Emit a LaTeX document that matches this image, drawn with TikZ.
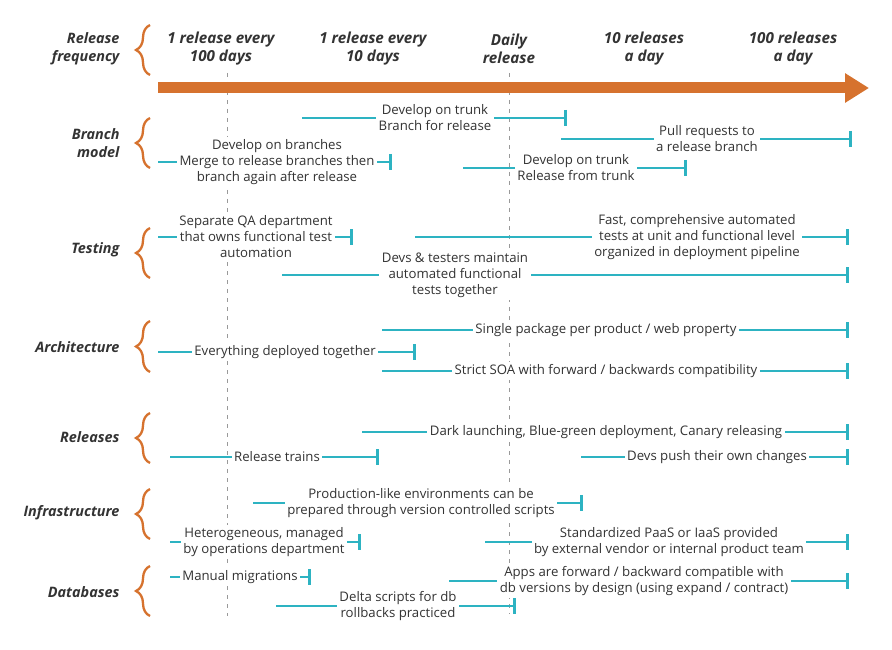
\documentclass[tikz,border=0pt]{standalone}
\usepackage{fontspec}
\setmainfont{Open Sans}
\usepackage{xcolor}
\usepackage{tikz}
\usetikzlibrary{arrows.meta, decorations.pathreplacing}

\definecolor{bandorange}{HTML}{D6722E}
\definecolor{barteal}{HTML}{2DB3C2}
\definecolor{textgray}{HTML}{333333}

\begin{document}
\begin{tikzpicture}[
    x=1pt, y=-1pt,
    rowlabel/.style={anchor=east, align=right, text=textgray, font=\fontsize{14.4pt}{18pt}\selectfont\bfseries\itshape},
    freq/.style={align=center, text=textgray, font=\fontsize{15.2pt}{18pt}\selectfont\bfseries\itshape},
    item/.style={fill=white, align=center, inner sep=2.5pt, text=textgray, font=\fontsize{13.2pt}{16pt}\selectfont},
    timebar/.style={draw=barteal, line width=2.7pt, -{Bar[width=16pt]}},
    rowbrace/.style={decorate, decoration={brace, amplitude=14pt}, draw=bandorange, line width=2.3pt},
    guide/.style={draw=gray!80, line width=1pt, dash pattern=on 4pt off 5pt},
    band/.style={draw=bandorange, line width=11pt, -{Triangle[length=24pt, width=28pt]}}
]
\useasboundingbox[fill=white] (0,0) rectangle (892,650);

% Guides at 100 days and daily
\coordinate (g1t) at (227,73); \coordinate (g1b) at (227,616);
\coordinate (g2t) at (509,73); \coordinate (g2b) at (509,614);
\draw[guide] (g1t) -- (g1b);
\draw[guide] (g2t) -- (g2b);

% Release frequency header
\node[rowlabel] (freqlabel) at (123,49) {Release\\frequency};
\draw[rowbrace] (150,75) -- (150,25);
\node[freq] (f100d) at (221,49) {1 release every\\100 days};
\node[freq] (f10d) at (373,49) {1 release every\\10 days};
\node[freq] (fdaily) at (509,49) {Daily\\release};
\node[freq] (f10a) at (644,49) {10 releases\\a day};
\node[freq] (f100a) at (793,49) {100 releases\\a day};
\coordinate (bandstart) at (158,88); \coordinate (bandend) at (869,88);
\draw[band] (bandstart) -- (bandend);

% Branch model
\node[rowlabel] (branchlabel) at (123,143) {Branch\\model};
\draw[rowbrace] (150,168) -- (150,118);
\coordinate (b1s) at (302,118); \coordinate (b1e) at (567,118);
\draw[timebar] (b1s) -- (b1e);
\node[item] (b1) at (435,118) {Develop on trunk\\Branch for release};
\coordinate (b2s) at (561,139); \coordinate (b2e) at (852,139);
\draw[timebar] (b2s) -- (b2e);
\node[item] (b2) at (707,139) {Pull requests to\\a release branch};
\coordinate (b3s) at (158,162); \coordinate (b3e) at (392,162);
\draw[timebar] (b3s) -- (b3e);
\node[item] (b3) at (277,162) {Develop on branches\\Merge to release branches then\\branch again after release};
\coordinate (b4s) at (463,168); \coordinate (b4e) at (687,168);
\draw[timebar] (b4s) -- (b4e);
\node[item] (b4) at (576,168) {Develop on trunk\\Release from trunk};

% Testing
\node[rowlabel] (testlabel) at (123,250) {Testing};
\draw[rowbrace] (150,278) -- (150,228);
\coordinate (t1s) at (158,237); \coordinate (t1e) at (353,237);
\draw[timebar] (t1s) -- (t1e);
\node[item] (t1) at (256,237) {Separate QA department\\that owns functional test\\automation};
\coordinate (t2s) at (415,237); \coordinate (t2e) at (849,237);
\draw[timebar] (t2s) -- (t2e);
\node[item] (t2) at (697,237) {Fast, comprehensive automated\\tests at unit and functional level\\organized in deployment pipeline};
\coordinate (t3s) at (282,275); \coordinate (t3e) at (849,275);
\draw[timebar] (t3s) -- (t3e);
\node[item] (t3) at (455,275) {Devs \& testers maintain\\automated functional\\tests together};

% Architecture
\node[rowlabel] (archlabel) at (123,347) {Architecture};
\draw[rowbrace] (150,372) -- (150,321);
\coordinate (a1s) at (382,330); \coordinate (a1e) at (849,330);
\draw[timebar] (a1s) -- (a1e);
\node[item] (a1) at (606,330) {Single package per product / web property};
\coordinate (a2s) at (158,352); \coordinate (a2e) at (416,352);
\draw[timebar] (a2s) -- (a2e);
\node[item] (a2) at (285,352) {Everything deployed together};
\coordinate (a3s) at (382,371); \coordinate (a3e) at (849,371);
\draw[timebar] (a3s) -- (a3e);
\node[item] (a3) at (606,371) {Strict SOA with forward / backwards compatibility};

% Releases
\node[rowlabel] (rellabel) at (123,437) {Releases};
\draw[rowbrace] (150,463) -- (150,413);
\coordinate (r1s) at (362,432); \coordinate (r1e) at (849,432);
\draw[timebar] (r1s) -- (r1e);
\node[item] (r1) at (606,432) {Dark launching, Blue-green deployment, Canary releasing};
\coordinate (r2s) at (170,457); \coordinate (r2e) at (379,457);
\draw[timebar] (r2s) -- (r2e);
\node[item] (r2) at (277,457) {Release trains};
\coordinate (r3s) at (581,457); \coordinate (r3e) at (849,457);
\draw[timebar] (r3s) -- (r3e);
\node[item] (r3) at (717,457) {Devs push their own changes};

% Infrastructure
\node[rowlabel] (infralabel) at (123,513) {Infrastructure};
\draw[rowbrace] (150,539) -- (150,489);
\coordinate (i1s) at (253,503); \coordinate (i1e) at (583,503);
\draw[timebar] (i1s) -- (i1e);
\node[item] (i1) at (421,503) {Production-like environments can be\\prepared through version controlled scripts};
\coordinate (i2s) at (170,542); \coordinate (i2e) at (361,542);
\draw[timebar] (i2s) -- (i2e);
\node[item] (i2) at (264,542) {Heterogeneous, managed\\by operations department};
\coordinate (i3s) at (485,542); \coordinate (i3e) at (849,542);
\draw[timebar] (i3s) -- (i3e);
\node[item] (i3) at (669,542) {Standardized PaaS or IaaS provided\\by external vendor or internal product team};

% Databases
\node[rowlabel] (dblabel) at (123,592) {Databases};
\draw[rowbrace] (150,616) -- (150,566);
\coordinate (d1s) at (170,577); \coordinate (d1e) at (311,577);
\draw[timebar] (d1s) -- (d1e);
\node[item] (d1) at (240,577) {Manual migrations};
\coordinate (d2s) at (449,581); \coordinate (d2e) at (849,581);
\draw[timebar] (d2s) -- (d2e);
\node[item] (d2) at (644,581) {Apps are forward / backward compatible with\\db versions by design (using expand / contract)};
\coordinate (d3s) at (276,606); \coordinate (d3e) at (516,606);
\draw[timebar] (d3s) -- (d3e);
\node[item] (d3) at (398,606) {Delta scripts for db\\rollbacks practiced};

\end{tikzpicture}
\end{document}
